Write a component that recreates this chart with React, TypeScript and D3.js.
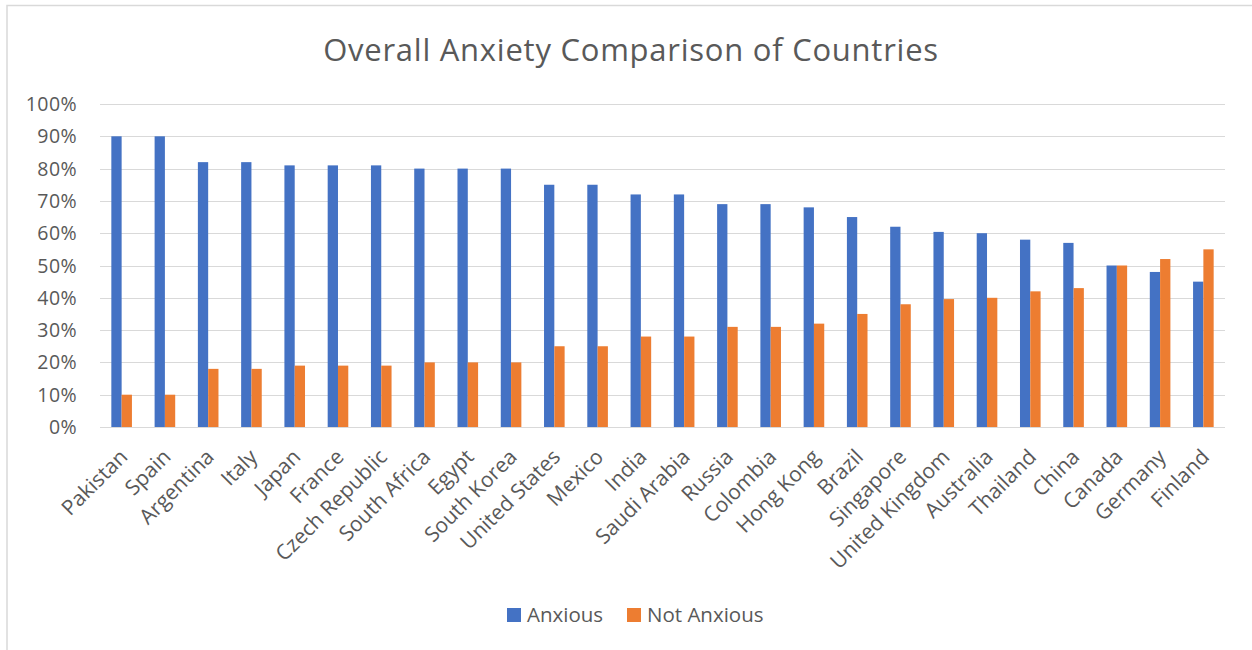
import React from "react";
import * as d3 from "d3";

const countries = [
  "Pakistan", "Spain", "Argentina", "Italy", "Japan", "France", "Czech Republic",
  "South Africa", "Egypt", "South Korea", "United States", "Mexico", "India",
  "Saudi Arabia", "Russia", "Colombia", "Hong Kong", "Brazil", "Singapore",
  "United Kingdom", "Australia", "Thailand", "China", "Canada", "Germany", "Finland",
];

const anxious = [
  90, 90, 82, 82, 81, 81, 81, 80, 80, 80, 75, 75, 72, 72, 69, 69, 68, 65, 62,
  60.4, 60, 58, 57, 50, 48, 45,
];

const notAnxious = [
  10, 10, 18, 18, 19, 19, 19, 20, 20, 20, 25, 25, 28, 28, 31, 31, 32, 35, 38,
  39.6, 40, 42, 43, 50, 52, 55,
];

const seriesNames = ["Anxious", "Not Anxious"];
const seriesColors = ["#4472C4", "#ED7D31"];
const yTicks = [0, 10, 20, 30, 40, 50, 60, 70, 80, 90, 100];

const W = 1252;
const H = 650;
const FONT = "'Open Sans', 'Segoe UI', sans-serif";
const TEXT = "#595959";
const GRID = "#d9d9d9";

export default function App() {
  const x = d3.scaleBand<string>().domain(countries).range([100, 1225]).padding(0);
  const groupHalf = 10.3;
  const xs = d3.scaleBand<string>().domain(seriesNames).range([-groupHalf, groupHalf]);
  const y = d3.scaleLinear().domain([0, 100]).range([427, 104]);
  const values = [anxious, notAnxious];

  return (
    <svg
      width={W}
      height={H}
      style={{ position: "absolute", left: 0, top: 0, background: "#fff" }}
      fontFamily={FONT}
    >
      <rect x={7} y={5.5} width={1300} height={700} fill="#fff" stroke={GRID} strokeWidth={1.5} />

      <text x={631} y={61} textAnchor="middle" fontSize={31} letterSpacing={0.75} fill={TEXT}>
        Overall Anxiety Comparison of Countries
      </text>

      {yTicks.map((t) => (
        <g key={t}>
          <line x1={100} x2={1225} y1={Math.round(y(t)) + 0.5} y2={Math.round(y(t)) + 0.5} stroke={GRID} strokeWidth={1.2} />
          <text x={77} y={y(t)} dy="0.36em" textAnchor="end" fontSize={19.5} letterSpacing={0.4} fill={TEXT}>
            {t}%
          </text>
        </g>
      ))}

      {countries.map((c, i) => {
        const cx = x(c)! + x.bandwidth() / 2;
        return (
          <g key={c}>
            {seriesNames.map((s, k) => (
              <rect
                key={s}
                x={cx + xs(s)!}
                y={y(values[k][i])}
                width={xs.bandwidth()}
                height={y(0) - y(values[k][i])}
                fill={seriesColors[k]}
              />
            ))}
            <text
              transform={`translate(${cx + 2},${453}) rotate(-45)`}
              textAnchor="end"
              dy="0.35em"
              fontSize={21}
              fill={TEXT}
            >
              {c}
            </text>
          </g>
        );
      })}

      <g>
        <rect x={507} y={608} width={14} height={14} fill={seriesColors[0]} />
        <text x={527} y={622} fontSize={20.5} fill={TEXT}>{seriesNames[0]}</text>
        <rect x={627} y={608} width={14} height={14} fill={seriesColors[1]} />
        <text x={647} y={622} fontSize={20.5} fill={TEXT}>{seriesNames[1]}</text>
      </g>
    </svg>
  );
}
